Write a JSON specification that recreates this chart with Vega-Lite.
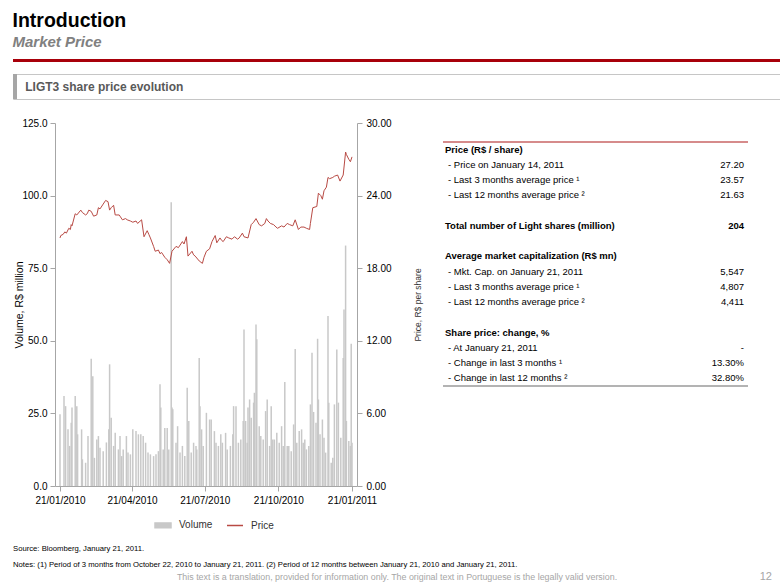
{
 "$schema": "https://vega.github.io/schema/vega-lite/v6.json",
 "background": "white",
 "padding": {"left": 12, "top": 10, "right": 0, "bottom": 0},
 "config": {"view": {"stroke": null}, "font": "Liberation Sans", "axis": {"grid": false}},
 "title": {"text": "Introduction", "subtitle": "Market Price", "anchor": "start", "frame": "bounds", "fontSize": 19.5, "fontWeight": "bold", "color": "#000000", "subtitleFontSize": 15, "subtitleFontStyle": "italic", "subtitleFontWeight": "bold", "subtitleColor": "#808080", "subtitlePadding": 4, "offset": 8},
 "datasets": {
  "volume": [
   {"date":"2010-01-21","volume":24.7},{"date":"2010-01-26","volume":31.0},{"date":"2010-01-28","volume":27.5},{"date":"2010-01-31","volume":19.5},{"date":"2010-02-02","volume":13.8},{"date":"2010-02-04","volume":21.8},{"date":"2010-02-05","volume":27.0},{"date":"2010-02-09","volume":31.0},{"date":"2010-02-11","volume":27.5},{"date":"2010-02-12","volume":17.8},{"date":"2010-02-17","volume":19.5},{"date":"2010-02-18","volume":9.2},{"date":"2010-02-22","volume":8.0},{"date":"2010-02-25","volume":17.2},{"date":"2010-03-01","volume":43.8},{"date":"2010-03-03","volume":37.8},{"date":"2010-03-05","volume":9.7},{"date":"2010-03-08","volume":16.0},{"date":"2010-03-10","volume":17.2},{"date":"2010-03-12","volume":13.2},{"date":"2010-03-16","volume":12.0},{"date":"2010-03-20","volume":15.0},{"date":"2010-03-23","volume":19.5},{"date":"2010-03-24","volume":41.9},{"date":"2010-03-26","volume":23.5},{"date":"2010-03-29","volume":13.8},{"date":"2010-03-31","volume":18.3},{"date":"2010-04-04","volume":12.6},{"date":"2010-04-06","volume":17.2},{"date":"2010-04-08","volume":10.3},{"date":"2010-04-10","volume":12.6},{"date":"2010-04-14","volume":17.2},{"date":"2010-04-16","volume":11.5},{"date":"2010-04-19","volume":10.9},{"date":"2010-04-22","volume":19.5},{"date":"2010-04-26","volume":18.9},{"date":"2010-04-29","volume":17.8},{"date":"2010-05-02","volume":17.8},{"date":"2010-05-05","volume":17.2},{"date":"2010-05-08","volume":14.9},{"date":"2010-05-11","volume":11.5},{"date":"2010-05-14","volume":10.9},{"date":"2010-05-18","volume":10.3},{"date":"2010-05-21","volume":10.9},{"date":"2010-05-24","volume":12.0},{"date":"2010-05-26","volume":35.0},{"date":"2010-05-27","volume":27.0},{"date":"2010-05-30","volume":12.6},{"date":"2010-06-01","volume":20.0},{"date":"2010-06-04","volume":20.0},{"date":"2010-06-06","volume":12.6},{"date":"2010-06-09","volume":97.7},{"date":"2010-06-10","volume":27.0},{"date":"2010-06-11","volume":26.4},{"date":"2010-06-15","volume":14.9},{"date":"2010-06-17","volume":20.6},{"date":"2010-06-20","volume":11.5},{"date":"2010-06-23","volume":13.8},{"date":"2010-06-26","volume":10.3},{"date":"2010-06-29","volume":33.8},{"date":"2010-07-01","volume":22.4},{"date":"2010-07-04","volume":11.5},{"date":"2010-07-07","volume":14.9},{"date":"2010-07-10","volume":13.8},{"date":"2010-07-11","volume":12.6},{"date":"2010-07-14","volume":44.1},{"date":"2010-07-15","volume":27.5},{"date":"2010-07-17","volume":19.5},{"date":"2010-07-19","volume":13.8},{"date":"2010-07-23","volume":25.2},{"date":"2010-07-27","volume":22.9},{"date":"2010-07-29","volume":22.9},{"date":"2010-08-02","volume":18.9},{"date":"2010-08-04","volume":14.9},{"date":"2010-08-07","volume":13.8},{"date":"2010-08-10","volume":17.8},{"date":"2010-08-12","volume":14.9},{"date":"2010-08-16","volume":18.3},{"date":"2010-08-18","volume":12.6},{"date":"2010-08-22","volume":13.8},{"date":"2010-08-25","volume":17.8},{"date":"2010-08-26","volume":27.5},{"date":"2010-08-29","volume":27.5},{"date":"2010-09-01","volume":14.9},{"date":"2010-09-04","volume":16.0},{"date":"2010-09-07","volume":22.4},{"date":"2010-09-08","volume":53.9},{"date":"2010-09-10","volume":22.4},{"date":"2010-09-12","volume":14.9},{"date":"2010-09-13","volume":27.0},{"date":"2010-09-15","volume":29.8},{"date":"2010-09-17","volume":23.5},{"date":"2010-09-20","volume":28.7},{"date":"2010-09-21","volume":32.1},{"date":"2010-09-23","volume":55.6},{"date":"2010-09-24","volume":50.5},{"date":"2010-09-27","volume":20.6},{"date":"2010-09-29","volume":17.2},{"date":"2010-10-02","volume":16.0},{"date":"2010-10-05","volume":25.8},{"date":"2010-10-07","volume":29.8},{"date":"2010-10-10","volume":13.8},{"date":"2010-10-12","volume":27.5},{"date":"2010-10-14","volume":16.0},{"date":"2010-10-16","volume":16.0},{"date":"2010-10-19","volume":18.3},{"date":"2010-10-22","volume":14.9},{"date":"2010-10-25","volume":20.6},{"date":"2010-10-27","volume":13.8},{"date":"2010-10-29","volume":35.8},{"date":"2010-11-01","volume":13.8},{"date":"2010-11-03","volume":13.8},{"date":"2010-11-06","volume":12.0},{"date":"2010-11-09","volume":21.2},{"date":"2010-11-11","volume":47.2},{"date":"2010-11-13","volume":14.9},{"date":"2010-11-16","volume":18.9},{"date":"2010-11-19","volume":19.5},{"date":"2010-11-21","volume":14.9},{"date":"2010-11-23","volume":16.0},{"date":"2010-11-25","volume":12.6},{"date":"2010-11-28","volume":13.8},{"date":"2010-11-30","volume":28.1},{"date":"2010-12-02","volume":45.9},{"date":"2010-12-04","volume":25.5},{"date":"2010-12-07","volume":21.8},{"date":"2010-12-09","volume":50.7},{"date":"2010-12-10","volume":29.8},{"date":"2010-12-12","volume":17.8},{"date":"2010-12-15","volume":22.9},{"date":"2010-12-17","volume":16.6},{"date":"2010-12-19","volume":11.5},{"date":"2010-12-22","volume":58.5},{"date":"2010-12-23","volume":28.7},{"date":"2010-12-26","volume":8.0},{"date":"2010-12-28","volume":9.7},{"date":"2010-12-30","volume":28.1},{"date":"2011-01-02","volume":47.0},{"date":"2011-01-04","volume":28.7},{"date":"2011-01-07","volume":16.6},{"date":"2011-01-10","volume":44.1},{"date":"2011-01-11","volume":60.8},{"date":"2011-01-13","volume":82.8},{"date":"2011-01-14","volume":22.4},{"date":"2011-01-17","volume":15.5},{"date":"2011-01-19","volume":13.8},{"date":"2011-01-20","volume":49.0},{"date":"2011-01-21","volume":14.9}
  ],
  "price": [
   {"date":"2010-01-21","price":20.5},{"date":"2010-01-22","price":20.7},{"date":"2010-01-25","price":20.8},{"date":"2010-01-27","price":21.0},{"date":"2010-01-29","price":20.9},{"date":"2010-02-01","price":21.3},{"date":"2010-02-03","price":21.2},{"date":"2010-02-04","price":21.6},{"date":"2010-02-05","price":21.5},{"date":"2010-02-09","price":22.5},{"date":"2010-02-11","price":22.4},{"date":"2010-02-16","price":22.8},{"date":"2010-02-18","price":22.6},{"date":"2010-02-22","price":22.4},{"date":"2010-02-24","price":22.5},{"date":"2010-02-26","price":22.8},{"date":"2010-03-01","price":22.7},{"date":"2010-03-04","price":22.3},{"date":"2010-03-08","price":22.4},{"date":"2010-03-10","price":23.0},{"date":"2010-03-12","price":22.9},{"date":"2010-03-16","price":23.3},{"date":"2010-03-19","price":23.6},{"date":"2010-03-22","price":23.5},{"date":"2010-03-24","price":22.8},{"date":"2010-03-26","price":23.0},{"date":"2010-03-29","price":23.2},{"date":"2010-03-31","price":22.4},{"date":"2010-04-05","price":22.4},{"date":"2010-04-06","price":22.3},{"date":"2010-04-09","price":22.0},{"date":"2010-04-13","price":22.1},{"date":"2010-04-15","price":22.0},{"date":"2010-04-19","price":21.9},{"date":"2010-04-22","price":21.8},{"date":"2010-04-26","price":21.9},{"date":"2010-04-28","price":21.7},{"date":"2010-05-03","price":22.0},{"date":"2010-05-06","price":20.6},{"date":"2010-05-10","price":21.1},{"date":"2010-05-12","price":20.8},{"date":"2010-05-14","price":20.5},{"date":"2010-05-18","price":19.8},{"date":"2010-05-20","price":19.4},{"date":"2010-05-24","price":19.5},{"date":"2010-05-26","price":19.2},{"date":"2010-05-28","price":19.3},{"date":"2010-06-01","price":18.9},{"date":"2010-06-04","price":18.7},{"date":"2010-06-07","price":18.4},{"date":"2010-06-10","price":19.4},{"date":"2010-06-15","price":19.8},{"date":"2010-06-18","price":19.7},{"date":"2010-06-21","price":20.0},{"date":"2010-06-23","price":20.2},{"date":"2010-06-25","price":20.0},{"date":"2010-06-28","price":20.6},{"date":"2010-06-30","price":19.0},{"date":"2010-07-05","price":19.4},{"date":"2010-07-07","price":19.1},{"date":"2010-07-09","price":19.0},{"date":"2010-07-14","price":18.6},{"date":"2010-07-18","price":18.4},{"date":"2010-07-20","price":18.9},{"date":"2010-07-23","price":19.4},{"date":"2010-07-27","price":19.6},{"date":"2010-07-30","price":20.2},{"date":"2010-08-03","price":20.7},{"date":"2010-08-05","price":20.1},{"date":"2010-08-09","price":20.5},{"date":"2010-08-11","price":20.3},{"date":"2010-08-13","price":20.2},{"date":"2010-08-17","price":20.6},{"date":"2010-08-20","price":20.5},{"date":"2010-08-24","price":20.4},{"date":"2010-08-27","price":20.6},{"date":"2010-08-31","price":20.4},{"date":"2010-09-02","price":20.5},{"date":"2010-09-06","price":20.9},{"date":"2010-09-08","price":20.6},{"date":"2010-09-13","price":20.5},{"date":"2010-09-17","price":21.6},{"date":"2010-09-20","price":21.8},{"date":"2010-09-23","price":22.1},{"date":"2010-09-27","price":21.6},{"date":"2010-09-30","price":21.5},{"date":"2010-10-04","price":21.7},{"date":"2010-10-06","price":22.1},{"date":"2010-10-08","price":21.9},{"date":"2010-10-11","price":21.7},{"date":"2010-10-15","price":21.6},{"date":"2010-10-18","price":21.4},{"date":"2010-10-20","price":21.3},{"date":"2010-10-25","price":21.5},{"date":"2010-10-28","price":21.4},{"date":"2010-11-01","price":21.7},{"date":"2010-11-04","price":21.6},{"date":"2010-11-08","price":21.5},{"date":"2010-11-11","price":22.0},{"date":"2010-11-15","price":21.2},{"date":"2010-11-18","price":21.4},{"date":"2010-11-22","price":21.4},{"date":"2010-11-25","price":21.3},{"date":"2010-11-29","price":21.2},{"date":"2010-11-30","price":21.7},{"date":"2010-12-03","price":23.0},{"date":"2010-12-08","price":23.1},{"date":"2010-12-10","price":24.2},{"date":"2010-12-13","price":24.0},{"date":"2010-12-15","price":23.7},{"date":"2010-12-17","price":24.4},{"date":"2010-12-20","price":24.7},{"date":"2010-12-22","price":25.5},{"date":"2010-12-24","price":25.4},{"date":"2010-12-28","price":25.5},{"date":"2010-12-30","price":25.6},{"date":"2011-01-03","price":25.7},{"date":"2011-01-06","price":25.2},{"date":"2011-01-10","price":25.7},{"date":"2011-01-13","price":27.6},{"date":"2011-01-14","price":27.4},{"date":"2011-01-17","price":27.0},{"date":"2011-01-19","price":26.8},{"date":"2011-01-21","price":27.2}
  ],
  "table": [
   {"row":1,"kind":"header","label":"Price (R$ / share)","value":""},
   {"row":2,"kind":"item","label":"- Price on January 14, 2011","value":"27.20"},
   {"row":3,"kind":"item","label":"- Last 3 months average price ¹","value":"23.57"},
   {"row":4,"kind":"item","label":"- Last 12 months average price ²","value":"21.63"},
   {"row":6,"kind":"header","label":"Total number of Light shares (million)","value":"204"},
   {"row":8,"kind":"header","label":"Average market capitalization (R$ mn)","value":""},
   {"row":9,"kind":"item","label":"- Mkt. Cap. on January 21, 2011","value":"5,547"},
   {"row":10,"kind":"item","label":"- Last 3 months average price ¹","value":"4,807"},
   {"row":11,"kind":"item","label":"- Last 12 months average price ²","value":"4,411"},
   {"row":13,"kind":"header","label":"Share price: change, %","value":""},
   {"row":14,"kind":"item","label":"- At January 21, 2011","value":"-"},
   {"row":15,"kind":"item","label":"- Change in last 3 months ¹","value":"13.30%"},
   {"row":16,"kind":"item","label":"- Change in last 12 months ²","value":"32.80%"}
  ],
  "footnotes": [
   {"line":1,"text":"Source: Bloomberg, January 21, 2011."},
   {"line":2,"text":"Notes: (1) Period of 3 months from October 22, 2010 to January 21, 2011.  (2) Period of 12 months between January 21, 2010 and  January 21, 2011."}
  ]
 },
 "spacing": 16,
 "vconcat": [
  {
   "spacing": 9,
   "vconcat": [
    {"width": 768, "height": 3, "view": {"fill": "#a8000a", "stroke": null}, "data": {"values": []}, "mark": "point", "encoding": {}},
    {
     "width": 767, "height": 25,
     "view": {"stroke": "#c6c6c6", "fill": "white"},
     "data": {"values": [{"label": "LIGT3 share price evolution"}]},
     "layer": [
      {"mark": {"type": "rule", "color": "#a6a6a6", "strokeWidth": 4}, "encoding": {"x": {"datum": 0.26, "type": "quantitative", "scale": {"domain": [0, 100], "nice": false}, "axis": null}}},
      {"mark": {"type": "text", "align": "left", "baseline": "middle", "fontSize": 12, "fontWeight": "bold", "color": "#595959"}, "encoding": {"x": {"datum": 1.6, "type": "quantitative", "axis": null}, "text": {"field": "label"}}}
     ]
    }
   ]
  },
  {
   "spacing": 36,
   "vconcat": [
    {
     "spacing": 0,
     "hconcat": [
      {"width": 1, "height": 1, "data": {"values": []}, "mark": "point", "encoding": {}},
      {
       "spacing": 20,
       "hconcat": [
        {
         "width": 302, "height": 363,
         "layer": [
          {
           "data": {"name": "volume"},
           "mark": {"type": "bar", "size": 1.5},
           "encoding": {
            "x": {"field": "date", "type": "temporal",
                  "scale": {"type": "utc", "domain": [{"year": 2010, "month": 1, "date": 21, "utc": true}, {"year": 2011, "month": 1, "date": 21, "utc": true}]},
                  "axis": {"values": [{"year": 2010, "month": 1, "date": 21, "utc": true}, {"year": 2010, "month": 4, "date": 21, "utc": true}, {"year": 2010, "month": 7, "date": 21, "utc": true}, {"year": 2010, "month": 10, "date": 21, "utc": true}, {"year": 2011, "month": 1, "date": 21, "utc": true}],
                           "format": "%d/%m/%Y", "title": null, "labelFontSize": 10, "labelColor": "#000000", "labelPadding": 4, "tickSize": 5, "domainColor": "#a6a6a6", "tickColor": "#a6a6a6", "labelOverlap": false}},
            "y": {"field": "volume", "type": "quantitative", "scale": {"domain": [0, 125]},
                  "axis": {"values": [0, 25, 50, 75, 100, 125], "format": ".1f", "title": "Volume, R$ million", "titleFontSize": 10.5, "titleFontWeight": "normal", "titleColor": "#000000", "titlePadding": -3, "labelFontSize": 10, "labelColor": "#000000", "labelPadding": 3, "tickSize": 5, "domainColor": "#a6a6a6", "tickColor": "#a6a6a6"}},
            "color": {"datum": "Volume", "type": "nominal",
                      "scale": {"domain": ["Volume", "Price"], "range": ["#c8c8c8", "#b84a44"]},
                      "legend": {"orient": "none", "legendX": 141, "legendY": 457, "direction": "horizontal", "title": null, "symbolSize": 256, "labelFontSize": 10, "labelColor": "#333333", "labelOffset": 7, "columnPadding": 11,
                                 "encode": {"symbols": {"update": {
                                   "shape": [{"test": "datum.value === 'Price'", "value": "stroke"}, {"value": "M-1,-0.3H1V0.3H-1Z"}],
                                   "fill": [{"test": "datum.value === 'Price'", "value": "transparent"}, {"value": "#b4b4b4"}],
                                   "stroke": [{"test": "datum.value === 'Price'", "value": "#c0504d"}, {"value": "transparent"}],
                                   "strokeWidth": {"value": 1.5},
                                   "opacity": {"value": 1}}}}}}
           }
          },
          {
           "data": {"name": "price"},
           "mark": {"type": "line", "strokeWidth": 1},
           "encoding": {
            "x": {"field": "date", "type": "temporal"},
            "y": {"field": "price", "type": "quantitative", "scale": {"domain": [0, 30]},
                  "axis": {"orient": "right", "values": [0, 6, 12, 18, 24, 30], "format": ".2f", "title": "Price, R$ per share", "titleAngle": 270, "titleFontSize": 8.5, "titleFontWeight": "normal", "titleColor": "#333333", "titlePadding": 31, "labelFontSize": 10, "labelColor": "#000000", "labelPadding": 4, "tickSize": 5, "domainColor": "#a6a6a6", "tickColor": "#a6a6a6"}},
            "color": {"datum": "Price", "type": "nominal"}
           }
          }
         ],
         "resolve": {"scale": {"y": "independent"}}
        },
        {
         "width": 305, "height": 263,
         "data": {"name": "table"},
         "layer": [
          {"data": {"values": [{"edge": "top"}]}, "mark": {"type": "rule", "color": "#c86464", "strokeWidth": 1.5},
           "encoding": {"y": {"datum": 0.5, "type": "quantitative", "scale": {"domain": [-0.74, 16.5], "reverse": true, "nice": false, "zero": false}, "axis": null}}},
          {"data": {"values": [{"edge": "bottom"}]}, "mark": {"type": "rule", "color": "#b3b3b3", "strokeWidth": 2},
           "encoding": {"y": {"datum": 16.5, "type": "quantitative", "axis": null}}},
          {"transform": [{"filter": "datum.kind === 'header'"}],
           "mark": {"type": "text", "align": "left", "baseline": "middle", "fontSize": 9.5, "fontWeight": "bold", "dx": 2, "color": "#000000"},
           "encoding": {"x": {"datum": 0, "type": "quantitative", "scale": {"domain": [0, 1], "nice": false}, "axis": null}, "y": {"field": "row", "type": "quantitative", "axis": null}, "text": {"field": "label"}}},
          {"transform": [{"filter": "datum.kind === 'item'"}],
           "mark": {"type": "text", "align": "left", "baseline": "middle", "fontSize": 9.5, "dx": 5, "color": "#000000"},
           "encoding": {"x": {"datum": 0, "type": "quantitative", "axis": null}, "y": {"field": "row", "type": "quantitative", "axis": null}, "text": {"field": "label"}}},
          {"transform": [{"filter": "datum.kind === 'item'"}],
           "mark": {"type": "text", "align": "right", "baseline": "middle", "fontSize": 9.5, "dx": -4, "color": "#000000"},
           "encoding": {"x": {"datum": 1, "type": "quantitative", "axis": null}, "y": {"field": "row", "type": "quantitative", "axis": null}, "text": {"field": "value"}}},
          {"transform": [{"filter": "datum.kind === 'header' && datum.value !== ''"}],
           "mark": {"type": "text", "align": "right", "baseline": "middle", "fontSize": 9.5, "fontWeight": "bold", "dx": -4, "color": "#000000"},
           "encoding": {"x": {"datum": 1, "type": "quantitative", "axis": null}, "y": {"field": "row", "type": "quantitative", "axis": null}, "text": {"field": "value"}}}
         ]
        }
       ]
      }
     ]
    },
    {
     "width": 768, "height": 40,
     "layer": [
      {"data": {"name": "footnotes"},
       "mark": {"type": "text", "align": "left", "baseline": "middle", "fontSize": 7.7, "color": "#000000"},
       "encoding": {"x": {"datum": 0, "type": "quantitative", "scale": {"domain": [0, 1], "nice": false}, "axis": null}, "y": {"field": "line", "type": "quantitative", "scale": {"domain": [0.5, 3], "reverse": true, "nice": false, "zero": false}, "axis": null}, "text": {"field": "text"}}},
      {"data": {"values": [{"text": "This text is a translation, provided for information only. The original text in Portuguese is the legally valid version."}]},
       "mark": {"type": "text", "align": "center", "baseline": "middle", "fontSize": 8.9, "color": "#a6a6a6"},
       "encoding": {"x": {"datum": 0.5, "type": "quantitative", "axis": null}, "y": {"datum": 2.75, "type": "quantitative", "axis": null}, "text": {"field": "text"}}},
      {"data": {"values": [{"text": "12"}]},
       "mark": {"type": "text", "align": "right", "baseline": "middle", "fontSize": 11, "color": "#a6a6a6", "dx": -9},
       "encoding": {"x": {"datum": 1, "type": "quantitative", "axis": null}, "y": {"datum": 2.75, "type": "quantitative", "axis": null}, "text": {"field": "text"}}}
     ]
    }
   ]
  }
 ]
}
